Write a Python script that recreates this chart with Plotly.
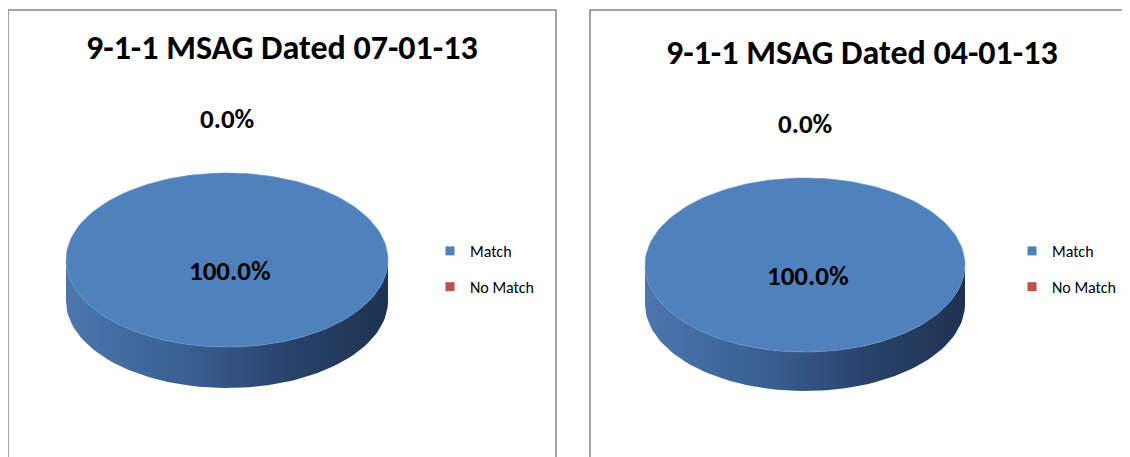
import numpy as np
import plotly.graph_objects as go

# ---------------- data ----------------
categories = ["Match", "No Match"]
chart_titles = ["9-1-1 MSAG Dated 07-01-13", "9-1-1 MSAG Dated 04-01-13"]
values_070113 = [100.0, 0.0]
values_040113 = [100.0, 0.0]
series_values = [values_070113, values_040113]

# ---------------- style / layout ----------------
W, H = 1130, 457
OFF = 8  # page body margin compensation
FONT = "Carlito, Calibri, 'Liberation Sans Narrow', 'Open Sans', sans-serif"
top_colors = {"Match": "#4F81BD", "No Match": "#C0504D"}
side_scales = {
    "Match": [[0, "#4b77ae"], [0.4, "#385d8f"], [0.7, "#28426a"], [1, "#1e3250"]],
    "No Match": [[0, "#b24a47"], [0.5, "#8a3836"], [1, "#5e2624"]],
}
panels = [
    dict(x0=8, x1=556, cx=227, cy=260, rx=161, ry=87, depth=41, legend_x=430, title_x=282, title_y=47),
    dict(x0=590, x1=1140, cx=805, cy=265, rx=160, ry=87, depth=39, legend_x=1012, title_x=862, title_y=52),
]

fig = go.Figure()


def ellipse_pts(cx, cy, rx, ry, a0, a1, n=160, dy=0.0):
    t = np.linspace(a0, a1, max(int(n * (a1 - a0) / (2 * np.pi)) + 2, 2))
    return cx + rx * np.sin(t), cy - ry * np.cos(t) + dy


annotations = []
shapes = []
for k, (title, vals) in enumerate(zip(chart_titles, series_values)):
    p = panels[k]
    legend_name = "legend" if k == 0 else "legend2"
    total = float(sum(vals))
    fracs = [v / total for v in vals]
    starts = np.concatenate([[0.0], np.cumsum(fracs)[:-1]]) * 2 * np.pi
    ends = np.cumsum(fracs) * 2 * np.pi

    # side walls (front half of the disc)
    for cat, a0, a1 in zip(categories, starts, ends):
        s0, s1 = max(a0, np.pi / 2), min(a1, 3 * np.pi / 2)
        if s1 - s0 <= 1e-9:
            continue
        xt, yt = ellipse_pts(p["cx"], p["cy"], p["rx"], p["ry"], s0, s1)
        xb, yb = ellipse_pts(p["cx"], p["cy"], p["rx"], p["ry"], s0, s1, dy=p["depth"])
        xs = np.concatenate([xt, xb[::-1], xt[:1]])
        ys = np.concatenate([yt, yb[::-1], yt[:1]])
        fig.add_trace(go.Scatter(
            x=xs, y=ys, mode="lines", fill="toself", line=dict(width=0),
            fillgradient=dict(type="horizontal", colorscale=side_scales[cat]),
            hoverinfo="skip", showlegend=False))

    # top faces
    for cat, a0, a1, v, f in zip(categories, starts, ends, vals, fracs):
        if a1 - a0 <= 1e-9:
            continue
        xe, ye = ellipse_pts(p["cx"], p["cy"], p["rx"], p["ry"], a0, a1)
        if f < 0.9999:
            xe = np.concatenate([[p["cx"]], xe, [p["cx"]]])
            ye = np.concatenate([[p["cy"]], ye, [p["cy"]]])
        fig.add_trace(go.Scatter(
            x=xe, y=ye, mode="lines", fill="toself", fillcolor=top_colors[cat],
            line=dict(width=0.6, color="#6a94c8" if cat == "Match" else "#d06a67"),
            name=cat, hovertemplate=f"{cat}: {v:.1f}%<extra></extra>", showlegend=False))

    # data labels
    for cat, a0, a1, v, f in zip(categories, starts, ends, vals, fracs):
        mid = (a0 + a1) / 2
        if f >= 0.9999:
            lx, ly = p["cx"] + 3, p["cy"] + 10
        elif f <= 1e-9:
            lx = p["cx"] + (p["rx"] + 50) * np.sin(mid)
            ly = p["cy"] - (p["ry"] + 55) * np.cos(mid)
        else:
            lx = p["cx"] + 0.6 * p["rx"] * np.sin(mid)
            ly = p["cy"] - 0.6 * p["ry"] * np.cos(mid)
        annotations.append(dict(
            x=lx, y=ly, xref="x", yref="y", text=f"<b>{v:.1f}%</b>", showarrow=False,
            font=dict(family=FONT, size=27, color="#000000"), xanchor="center", yanchor="middle"))

    # legend entries
    for i, cat in enumerate(categories):
        fig.add_trace(go.Scatter(
            x=[None], y=[None], mode="markers", name=cat,
            marker=dict(symbol="square", size=9, color=top_colors[cat]),
            legend=legend_name, legendgroup=f"{k}-{cat}", showlegend=True))

    # title
    annotations.append(dict(
        x=p["title_x"], y=p["title_y"], xref="x", yref="y", text=f"<b>{title}</b>",
        showarrow=False, font=dict(family=FONT, size=34, color="#000000"),
        xanchor="center", yanchor="middle"))

    # panel border
    shapes.append(dict(type="rect", xref="x", yref="y", x0=p["x0"], x1=p["x1"], y0=10, y1=H + 30,
                       line=dict(color="#868686", width=1.5), fillcolor="rgba(0,0,0,0)", layer="below"))

legend_common = dict(
    font=dict(family=FONT, size=16, color="#000000"), bgcolor="rgba(0,0,0,0)",
    tracegroupgap=12, yanchor="middle", xanchor="left", y=1 - (269 - OFF) / H, itemclick=False,
    itemdoubleclick=False,
)
fig.update_layout(
    width=W, height=H, margin=dict(l=0, r=0, t=0, b=0),
    paper_bgcolor="#ffffff", plot_bgcolor="#ffffff",
    xaxis=dict(range=[OFF, W + OFF], visible=False, fixedrange=True),
    yaxis=dict(range=[H + OFF, OFF], visible=False, fixedrange=True),
    annotations=annotations, shapes=shapes,
    legend=dict(x=(panels[0]["legend_x"] - OFF) / W, **legend_common),
    legend2=dict(x=(panels[1]["legend_x"] - OFF) / W, **legend_common),
    hovermode="closest",
)
fig.write_html("out.html")
